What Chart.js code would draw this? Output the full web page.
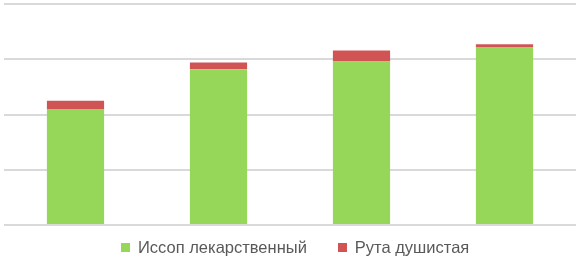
<!DOCTYPE html>
<html>
<head>
<meta charset="utf-8">
<script src="https://cdn.jsdelivr.net/npm/chart.js@4"></script>
<style>
  html, body { margin: 0; padding: 0; background: #fff; }
  #wrap { position: relative; width: 579px; height: 265px; }
  #legend {
    position: absolute; left: 121px; top: 237px;
    display: flex; align-items: center;
    font-family: 'Liberation Sans', sans-serif; font-size: 16.5px; color: #595959;
    white-space: nowrap; line-height: 20px;
  }
  .item { display: flex; align-items: center; }
  .item + .item { margin-left: 31px; }
  .box { width: 9px; height: 9px; margin-right: 8px; }
</style>
</head>
<body>
<div id="wrap">
  <canvas id="myChart" width="579" height="265"></canvas>
  <div id="legend"></div>
</div>
<script>
const categories = ['1', '2', '3', '4'];
const hyssopValues = [105, 141, 148, 161];
const rueValues = [7.5, 6, 10, 2.5];
const seriesNames = ['Иссоп лекарственный', 'Рута душистая'];
const seriesColors = ['#96d75a', '#d05454'];

const ctx = document.getElementById('myChart').getContext('2d');

const myChart = new Chart(ctx, {
    type: 'bar',
    data: {
        labels: categories,
        datasets: [
            {
                label: seriesNames[0],
                data: hyssopValues,
                backgroundColor: seriesColors[0],
                barPercentage: 0.4,
                categoryPercentage: 1.0
            },
            {
                label: seriesNames[1],
                data: rueValues,
                backgroundColor: seriesColors[1],
                barPercentage: 0.4,
                categoryPercentage: 1.0
            }
        ]
    },
    options: {
        responsive: false,
        animation: false,
        layout: {
            padding: { left: 4, right: 3, top: 4, bottom: 40 }
        },
        scales: {
            x: {
                stacked: true,
                display: false
            },
            y: {
                stacked: true,
                min: 0,
                max: 200,
                ticks: { display: false, stepSize: 50 },
                border: { display: false },
                grid: { color: '#d9d9d9', lineWidth: 2, drawTicks: false }
            }
        },
        plugins: {
            legend: { display: false },
            tooltip: { enabled: false }
        }
    }
});

// legend in html, so the gap between the two items can match
const legend = document.getElementById('legend');
myChart.data.datasets.forEach(function(ds) {
    const item = document.createElement('div');
    item.className = 'item';
    const box = document.createElement('span');
    box.className = 'box';
    box.style.background = ds.backgroundColor;
    const text = document.createElement('span');
    text.textContent = ds.label;
    item.appendChild(box);
    item.appendChild(text);
    legend.appendChild(item);
});
</script>
</body>
</html>
